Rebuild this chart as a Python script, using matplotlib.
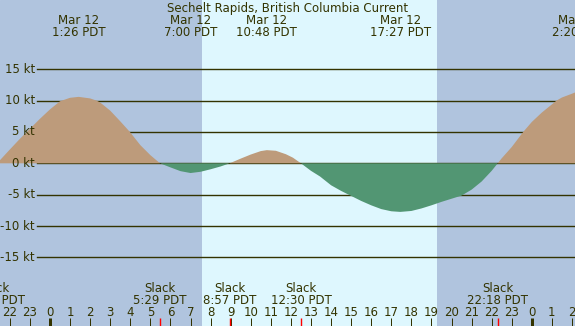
import numpy as np
import matplotlib
matplotlib.use("Agg")
import matplotlib.pyplot as plt
import matplotlib.transforms as mtransforms

# akinti verisi (saat, Mar 12 00:00'dan itibaren; hiz kt, + flood / - ebb)
saat = [-2.49, -2.0, -1.5, -1.0, -0.5, 0.0, 0.5, 1.0, 1.43, 2.0, 2.32, 2.5, 3.0, 3.5,
        3.98, 4.5, 5.0, 5.48,
        6.0, 6.5, 7.0, 7.5, 8.0, 8.5, 8.95,
        9.5, 10.0, 10.5, 10.8, 11.25, 11.75, 12.1, 12.5,
        13.0, 13.45, 14.0, 14.5, 15.0, 15.5, 16.0, 16.5, 17.0, 17.45, 18.0, 18.5,
        19.0, 19.5, 20.0, 20.5, 21.0, 21.5, 22.0, 22.3,
        22.5, 23.0, 23.57, 24.0, 24.5, 25.0, 25.23, 25.5, 26.0, 26.15]
hiz = [0.5, 2.2, 3.9, 5.5, 7.1, 8.6, 9.9, 10.45, 10.6, 10.35, 10.0, 9.7, 8.4, 6.7,
       5.0, 2.9, 1.3, 0.0,
       -0.65, -1.25, -1.55, -1.35, -0.95, -0.5, 0.0,
       0.75, 1.4, 1.95, 2.1, 2.0, 1.45, 0.9, 0.0,
       -1.2, -2.1, -3.5, -4.4, -5.2, -6.0, -6.7, -7.3, -7.65, -7.75, -7.6, -7.2,
       -6.7, -6.15, -5.65, -5.15, -4.2, -2.9, -1.2, 0.0,
       0.8, 2.6, 5.0, 6.6, 8.1, 9.4, 10.0, 10.5, 11.1, 11.3]

# ust etiketler (max akinti)
ust_saat = [1.43, 7.0, 10.8, 17.45, 26.33]
ust_tarih = ["Mar 12", "Mar 12", "Mar 12", "Mar 12", "Mar 13"]
ust_zaman = ["1:26 PDT", "7:00 PDT", "10:48 PDT", "17:27 PDT", "2:20 PDT"]

# alt etiketler (slack)
slack_saat = [-2.78, 5.48, 8.95, 12.5, 22.3]
slack_zaman = ["21:13 PDT", "5:29 PDT", "8:57 PDT", "12:30 PDT", "22:18 PDT"]

gun_dogumu = 7.57
gun_batimi = 19.27
seviyeler = [15, 10, 5, 0, -5, -10, -15]
baslik = "Sechelt Rapids, British Columbia Current"

# renkler
gece = "#b0c4de"
gunduz = "#def7fe"
flood_renk = "#bd9b7b"
ebb_renk = "#529673"
yazi = "#333300"

W, H = 575, 326
fig = plt.figure(figsize=(W / 100, H / 100), dpi=100)
ax = fig.add_axes([0, 0, 1, 1])
ax.set_xlim(-2.49, 26.15)
ax.set_ylim(-25.95, 26.05)
ax.set_axis_off()
ax.add_patch(plt.Rectangle((0, 0), 1, 1, transform=ax.transAxes, color=gece, zorder=0))
ax.axvspan(gun_dogumu, gun_batimi, color=gunduz, zorder=0.5, lw=0)

def py(p):
    return 1 - p / H

trans = mtransforms.blended_transform_factory(ax.transData, ax.transAxes)
trans_y = mtransforms.blended_transform_factory(ax.transAxes, ax.transData)

# izgara cizgileri
for s in seviyeler:
    ax.axhline(s, xmin=37 / W, xmax=1, color=yazi, lw=1.0, zorder=1)
    ax.text(35 / W, s, f"{s} kt", transform=trans_y, ha="right", va="center",
            fontsize=8.5, color=yazi, zorder=5)

x = np.array(saat)
v = np.array(hiz)
ax.fill_between(x, np.where(v > 0, v, 0), 0, color=flood_renk, lw=0, zorder=2)
ax.fill_between(x, np.where(v < 0, v, 0), 0, color=ebb_renk, lw=0, zorder=2)

# baslik ve ust etiketler
ax.text(0.5, py(11.7), baslik, transform=ax.transAxes, ha="center", va="baseline",
        fontsize=8.5, color=yazi, zorder=5)
for h, t1, t2 in zip(ust_saat, ust_tarih, ust_zaman):
    ax.text(h, py(24), t1, transform=trans, ha="center", va="baseline",
            fontsize=8.5, color=yazi, zorder=5)
    ax.text(h, py(36), t2, transform=trans, ha="center", va="baseline",
            fontsize=8.5, color=yazi, zorder=5)

# slack etiketleri
for h, t2 in zip(slack_saat, slack_zaman):
    ax.text(h, py(291.7), "Slack", transform=trans, ha="center", va="baseline",
            fontsize=8.5, color=yazi, zorder=5)
    ax.text(h, py(304), t2, transform=trans, ha="center", va="baseline",
            fontsize=8.5, color=yazi, zorder=5)

# saat isaretleri
for h in range(-2, 27):
    ax.text(h, py(315.7), str(h % 24), transform=trans, ha="center", va="baseline",
            fontsize=8.5, color=yazi, zorder=5)
    kalin = 3 if h % 24 == 0 else 1
    ax.plot([h, h], [0, 8 / H], transform=trans, color=yazi, lw=kalin * 0.72,
            solid_capstyle="butt", zorder=4)
for h in slack_saat:
    ax.plot([h, h], [0, 8 / H], transform=trans, color="red", lw=1.0,
            solid_capstyle="butt", zorder=4)

fig.savefig("out.png", dpi=100)
